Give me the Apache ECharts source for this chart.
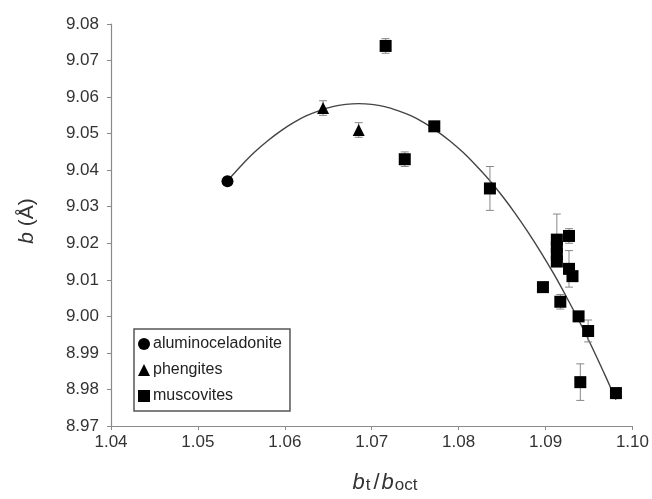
<!DOCTYPE html>
<html>
<head>
<meta charset="utf-8">
<script src="https://cdn.jsdelivr.net/npm/echarts@6/dist/echarts.min.js"></script>
<style>
html,body{margin:0;padding:0;background:#fff;}
#c{width:652px;height:499px;}
</style>
</head>
<body>
<div id="c"></div>
<script>
// ---- data ----
var xTicks = [1.04, 1.05, 1.06, 1.07, 1.08, 1.09, 1.10];
var yTicks = [8.97, 8.98, 8.99, 9.00, 9.01, 9.02, 9.03, 9.04, 9.05, 9.06, 9.07, 9.08];

var alumX = [1.0534];
var alumY = [9.037];
var alumErr = [0];

var phengX = [1.0644, 1.0685];
var phengY = [9.057, 9.051];
var phengErr = [0.002, 0.002];

var muscX = [1.0716, 1.0738, 1.0772, 1.0836, 1.0897, 1.0913, 1.0913, 1.0913, 1.0913, 1.0917, 1.0927, 1.0927, 1.0931, 1.0938, 1.0949, 1.0940, 1.0981];
var muscY = [9.074, 9.043, 9.052, 9.035, 9.008, 9.021, 9.019, 9.017, 9.015, 9.004, 9.022, 9.013, 9.011, 9.000, 8.996, 8.982, 8.979];
var muscErr = [0.002, 0.002, 0, 0.006, 0, 0.007, 0, 0, 0, 0.002, 0.002, 0.005, 0, 0.001, 0.003, 0.005, 0.0015];

// trend curve, points
var fitX = [1.0534, 1.0550, 1.0565, 1.0580, 1.0595, 1.0610, 1.0625, 1.0640, 1.0655, 1.0670, 1.0685, 1.0700, 1.0715, 1.0730, 1.0745, 1.0760, 1.0775, 1.0790, 1.0805, 1.0820, 1.0835, 1.0850, 1.0865, 1.0880, 1.0895, 1.0910, 1.0925, 1.0940, 1.0955, 1.0970, 1.0981];
var fitY = [9.0371, 9.0413, 9.0449, 9.0480, 9.0507, 9.0530, 9.0549, 9.0563, 9.0574, 9.0580, 9.0582, 9.0580, 9.0574, 9.0563, 9.0549, 9.0530, 9.0507, 9.0480, 9.0449, 9.0413, 9.0374, 9.0330, 9.0282, 9.0230, 9.0174, 9.0114, 9.0049, 8.9981, 8.9908, 8.9831, 8.9772];

var FONT = 'Liberation Sans, Arial, sans-serif';

function pairs(xs, ys) { return xs.map(function (x, i) { return [x, ys[i]]; }); }
function errData(xs, ys, es) {
  var out = [];
  xs.forEach(function (x, i) { if (es[i] > 0) out.push([x, ys[i], es[i]]); });
  return out;
}
var allErr = errData(alumX, alumY, alumErr)
  .concat(errData(phengX, phengY, phengErr))
  .concat(errData(muscX, muscY, muscErr));

var chart = echarts.init(document.getElementById('c'));
chart.setOption({
  animation: false,
  backgroundColor: '#ffffff',
  grid: { left: 111, right: 19, top: 24, bottom: 73, containLabel: false },
  xAxis: {
    type: 'value', min: xTicks[0], max: xTicks[xTicks.length - 1], interval: 0.01,
    splitLine: { show: false },
    axisLine: { lineStyle: { color: '#8a8a8a', width: 1.2 } },
    axisTick: { show: true, inside: false, length: 4, lineStyle: { color: '#8a8a8a' } },
    axisLabel: { color: '#333', fontFamily: FONT, fontSize: 17, margin: 8,
      formatter: function (v) { return v.toFixed(2); } }
  },
  yAxis: {
    type: 'value', min: yTicks[0], max: yTicks[yTicks.length - 1], interval: 0.01,
    splitLine: { show: false },
    axisLine: { show: true, lineStyle: { color: '#8a8a8a', width: 1.2 } },
    axisTick: { show: true, inside: false, length: 4, lineStyle: { color: '#8a8a8a' } },
    axisLabel: { color: '#333', fontFamily: FONT, fontSize: 17, margin: 12,
      formatter: function (v) { return v.toFixed(2); } }
  },
  legend: {
    orient: 'vertical', left: 134, top: 329,
    data: ['aluminoceladonite', 'phengites', 'muscovites'],
    itemWidth: 12, itemHeight: 12, itemGap: 10,
    padding: [7, 8, 7, 4],
    borderColor: '#555', borderWidth: 1.5, borderRadius: 0,
    textStyle: { color: '#222', fontFamily: FONT, fontSize: 16, padding: [0, 0, 0, -2] }
  },
  graphic: [
    {
      type: 'text', x: 27, y: 221, rotation: Math.PI / 2,
      style: {
        text: '{i|b} (Å)', fill: '#333', font: '21px ' + FONT,
        align: 'center', verticalAlign: 'middle',
        rich: { i: { fontStyle: 'italic', fontSize: 21, fontFamily: FONT, fill: '#333' } }
      }
    },
    {
      type: 'text', x: 385, y: 483,
      style: {
        text: '{i|b}{s|t}{n|/}{i|b}{s|oct}', fill: '#333', font: '22px ' + FONT,
        align: 'center', verticalAlign: 'middle',
        rich: {
          i: { fontStyle: 'italic', fontSize: 22, fontFamily: FONT, fill: '#333', verticalAlign: 'top', lineHeight: 22 },
          n: { fontSize: 22, fontFamily: FONT, fill: '#333', verticalAlign: 'top', lineHeight: 22, padding: [0, 2, 0, 3] },
          s: { fontSize: 17, fontFamily: FONT, fill: '#333', verticalAlign: 'bottom', lineHeight: 17, padding: [11, 0, 0, 1] }
        }
      }
    }
  ],
  series: [
    {
      name: 'fit', type: 'line', data: pairs(fitX, fitY), smooth: 0.3,
      showSymbol: false, symbol: 'none', z: 1,
      lineStyle: { color: '#444', width: 1.4 }
    },
    {
      name: 'err', type: 'custom', data: allErr, z: 2,
      renderItem: function (params, api) {
        var x = api.value(0), y = api.value(1), e = api.value(2);
        var top = api.coord([x, y + e]);
        var bot = api.coord([x, y - e]);
        var h = 4;
        var st = { stroke: '#888', lineWidth: 1 };
        return {
          type: 'group', children: [
            { type: 'line', shape: { x1: top[0], y1: top[1], x2: bot[0], y2: bot[1] }, style: st },
            { type: 'line', shape: { x1: top[0] - h, y1: top[1], x2: top[0] + h, y2: top[1] }, style: st },
            { type: 'line', shape: { x1: bot[0] - h, y1: bot[1], x2: bot[0] + h, y2: bot[1] }, style: st }
          ]
        };
      }
    },
    {
      name: 'aluminoceladonite', type: 'scatter', data: pairs(alumX, alumY), z: 3,
      symbol: 'circle', symbolSize: 12, itemStyle: { color: '#000', opacity: 1 }
    },
    {
      name: 'phengites', type: 'scatter', data: pairs(phengX, phengY), z: 3,
      symbol: 'triangle', symbolSize: 12, itemStyle: { color: '#000', opacity: 1 }
    },
    {
      name: 'muscovites', type: 'scatter', data: pairs(muscX, muscY), z: 3,
      symbol: 'rect', symbolSize: 12, itemStyle: { color: '#000', opacity: 1 }
    }
  ]
});
</script>
</body>
</html>
